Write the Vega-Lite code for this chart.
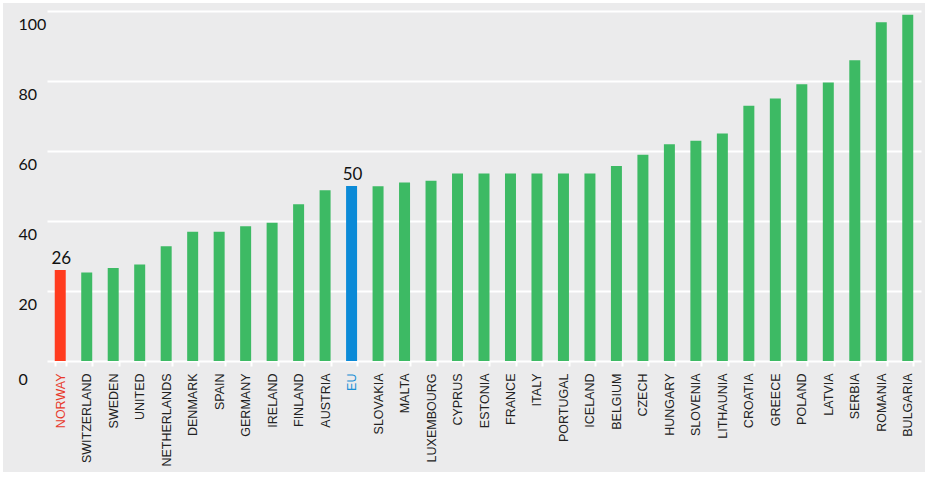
{
  "$schema": "https://vega.github.io/schema/vega-lite/v6.json",
  "width": 922,
  "height": 469,
  "autosize": {"type": "none"},
  "padding": {"left": 3, "top": 3, "right": 4, "bottom": 5},
  "background": "#ffffff",
  "config": {
    "view": {"fill": "#ebebec", "stroke": null}
  },
  "data": {
    "values": [
      {"country": "NORWAY", "value": 26, "group": "Norway"},
      {"country": "SWITZERLAND", "value": 25.3, "group": "Other"},
      {"country": "SWEDEN", "value": 26.6, "group": "Other"},
      {"country": "UNITED", "value": 27.6, "group": "Other"},
      {"country": "NETHERLANDS", "value": 32.8, "group": "Other"},
      {"country": "DENMARK", "value": 36.9, "group": "Other"},
      {"country": "SPAIN", "value": 36.9, "group": "Other"},
      {"country": "GERMANY", "value": 38.5, "group": "Other"},
      {"country": "IRELAND", "value": 39.5, "group": "Other"},
      {"country": "FINLAND", "value": 44.8, "group": "Other"},
      {"country": "AUSTRIA", "value": 48.8, "group": "Other"},
      {"country": "EU", "value": 50, "group": "EU"},
      {"country": "SLOVAKIA", "value": 49.9, "group": "Other"},
      {"country": "MALTA", "value": 51.0, "group": "Other"},
      {"country": "LUXEMBOURG", "value": 51.5, "group": "Other"},
      {"country": "CYPRUS", "value": 53.6, "group": "Other"},
      {"country": "ESTONIA", "value": 53.6, "group": "Other"},
      {"country": "FRANCE", "value": 53.6, "group": "Other"},
      {"country": "ITALY", "value": 53.6, "group": "Other"},
      {"country": "PORTUGAL", "value": 53.6, "group": "Other"},
      {"country": "ICELAND", "value": 53.6, "group": "Other"},
      {"country": "BELGIUM", "value": 55.7, "group": "Other"},
      {"country": "CZECH", "value": 58.9, "group": "Other"},
      {"country": "HUNGARY", "value": 61.9, "group": "Other"},
      {"country": "SLOVENIA", "value": 62.9, "group": "Other"},
      {"country": "LITHAUNIA", "value": 65.0, "group": "Other"},
      {"country": "CROATIA", "value": 72.9, "group": "Other"},
      {"country": "GREECE", "value": 75.0, "group": "Other"},
      {"country": "POLAND", "value": 79.1, "group": "Other"},
      {"country": "LATVIA", "value": 79.6, "group": "Other"},
      {"country": "SERBIA", "value": 85.9, "group": "Other"},
      {"country": "ROMANIA", "value": 96.8, "group": "Other"},
      {"country": "BULGARIA", "value": 98.9, "group": "Other"}
    ]
  },
  "encoding": {
    "x": {
      "field": "country",
      "type": "nominal",
      "sort": null,
      "scale": {"range": [44, 918], "paddingInner": 0.585, "paddingOuter": 0.2925},
      "axis": {
        "title": null,
        "orient": "bottom",
        "offset": -111,
        "domain": false,
        "ticks": true,
        "tickColor": "#ffffff",
        "tickWidth": 2,
        "tickSize": 5,
        "tickBand": "extent",
        "labelAngle": -90,
        "labelPadding": 7,
        "labelFont": "Liberation Sans",
        "labelFontSize": 12.5,
        "labelColor": {
          "condition": [
            {"test": "datum.value === 'NORWAY'", "value": "#e8392b"},
            {"test": "datum.value === 'EU'", "value": "#1a8fd6"}
          ],
          "value": "#222222"
        }
      }
    },
    "y": {
      "field": "value",
      "type": "quantitative",
      "scale": {"domain": [-31.71, 102.29], "nice": false, "zero": false},
      "axis": {
        "title": null,
        "orient": "left",
        "values": [0, 20, 40, 60, 80, 100],
        "domain": false,
        "ticks": false,
        "grid": true,
        "gridColor": "#ffffff",
        "gridWidth": 2,
        "labelAlign": "left",
        "labelBaseline": "middle",
        "labelPadding": -15,
        "labelOffset": {"condition": {"test": "datum.value == 0", "value": 18}, "value": 13},
        "labelFont": "Lato",
        "labelFontSize": 16,
        "labelColor": "#111111"
      }
    }
  },
  "layer": [
    {
      "mark": {"type": "bar"},
      "encoding": {
        "y2": {"datum": 0},
        "color": {
          "field": "group",
          "type": "nominal",
          "scale": {"domain": ["Norway", "EU", "Other"], "range": ["#ff3b1e", "#0b8ad7", "#3dba64"]},
          "legend": null
        }
      }
    },
    {
      "transform": [{"filter": "datum.group !== 'Other'"}],
      "mark": {"type": "text", "baseline": "alphabetic", "dy": -6, "dx": 1, "font": "Lato", "fontSize": 17, "color": "#111111"},
      "encoding": {
        "text": {"field": "value", "type": "quantitative", "format": "d"}
      }
    }
  ]
}
